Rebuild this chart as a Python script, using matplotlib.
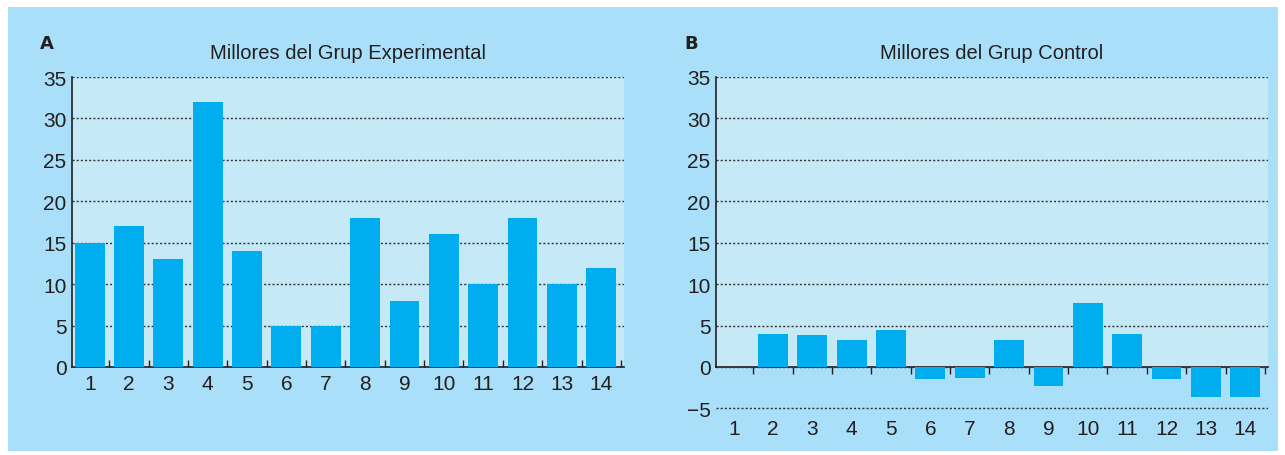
import matplotlib.pyplot as plt
from matplotlib.patches import Rectangle

# data
subjects = list(range(1, 15))
experimental = [15, 17, 13, 32, 14, 5, 5, 18, 8, 16, 10, 18, 10, 12]
control = [0, 4.0, 3.9, 3.3, 4.5, -1.4, -1.3, 3.3, -2.3, 7.7, 4.0, -1.4, -3.6, -3.6]
titles = ['Millores del Grup Experimental', 'Millores del Grup Control']
panel_letters = ['A', 'B']

outer = '#a9dff9'
inner = '#c6e9f8'
bar_col = '#00aeef'
ink = '#231f20'

plt.rcParams['font.family'] = ['Liberation Sans Narrow', 'Liberation Sans', 'DejaVu Sans']

fig = plt.figure(figsize=(12.85, 4.56), dpi=100)
fig.patches.append(Rectangle((8/1285, 0.008), 1270/1285, 1 - 8/456 - 0.008,
                             transform=fig.transFigure, facecolor=outer,
                             edgecolor='none', zorder=-10))

W = 552/1285
H = 290/456
ppu = 290/35.0  # pixels per unit on y

# panel A
axA = fig.add_axes([72/1285, 1 - 368/456, W, H])
axA.set_facecolor(inner)
axA.bar(subjects, experimental, width=0.76, color=bar_col, zorder=3)
axA.set_xlim(0.55, 14.58)
axA.set_ylim(0, 35)
axA.set_yticks(range(0, 36, 5))
axA.yaxis.grid(True, linestyle=(0, (1.5, 1.5)), color='#333333', linewidth=1)
axA.set_axisbelow(True)
axA.set_xticks(subjects)
axA.set_xticks([s + 0.5 for s in subjects], minor=True)
axA.tick_params(axis='x', which='major', length=0, labelsize=15, colors=ink, pad=5)
axA.tick_params(axis='x', which='minor', direction='in', length=5, width=1, color=ink)
axA.tick_params(axis='y', length=0, labelsize=15, colors=ink, pad=4)
for s in ['top', 'right']:
    axA.spines[s].set_visible(False)
for s in ['left', 'bottom']:
    axA.spines[s].set_color(ink)
    axA.spines[s].set_linewidth(1.2)

# panel B
ymin_b = -5.4
bottomB = 368 + (-ymin_b)*ppu
axB = fig.add_axes([716/1285, 1 - bottomB/456, W, (35 - ymin_b)*ppu/456])
axB.set_facecolor('none')
axB.axhspan(0, 35, facecolor=inner, edgecolor='none', zorder=0)
axB.bar(subjects, control, width=0.76, color=bar_col, zorder=3)
axB.set_xlim(0.55, 14.58)
axB.set_ylim(ymin_b, 35)
axB.set_yticks(range(-5, 36, 5))
axB.set_yticklabels(['\u22125'] + [str(v) for v in range(0, 36, 5)])
axB.yaxis.grid(True, linestyle=(0, (1.5, 1.5)), color='#333333', linewidth=1)
axB.set_axisbelow(True)
axB.set_xticks(subjects)
axB.tick_params(axis='x', which='major', length=0, labelsize=15, colors=ink, pad=5)
axB.tick_params(axis='y', length=0, labelsize=15, colors=ink, pad=4)
for s in ['top', 'right', 'bottom']:
    axB.spines[s].set_visible(False)
axB.spines['left'].set_bounds(0, 35)
axB.spines['left'].set_color(ink)
axB.spines['left'].set_linewidth(1.2)
zero_ax = axB.secondary_xaxis(-ymin_b/(35 - ymin_b))
zero_ax.set_xticks([s + 0.5 for s in subjects])
zero_ax.set_xticklabels([])
zero_ax.tick_params(axis='x', direction='out', length=5, width=1, color=ink)
zero_ax.spines['bottom'].set_color(ink)
zero_ax.spines['bottom'].set_linewidth(1.2)

for ax, t, letter in zip([axA, axB], titles, panel_letters):
    ax.set_title(t, fontsize=14.5, color=ink, pad=14)
    x0 = ax.get_position().x0
    fig.text(x0 - 32/1285, 1 - 53/456, letter, fontsize=13,
             fontweight='bold', color=ink, family='DejaVu Sans', ha='left', va='bottom')

fig.savefig('out.png', dpi=100)
